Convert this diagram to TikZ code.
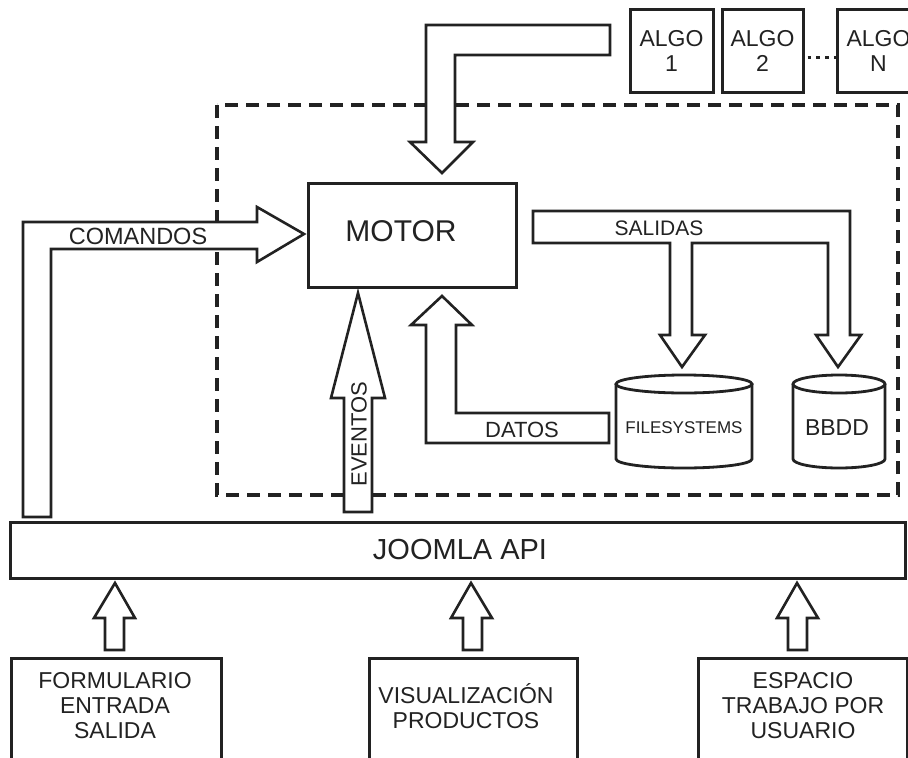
\documentclass[tikz,border=0pt]{standalone}
\usepackage{fontspec}
\setmainfont{Liberation Sans}
\definecolor{ink}{HTML}{222222}
\newcommand\fsz[2]{\fontsize{#1}{#2}\selectfont}
\tikzset{
  boxst/.style={draw=ink, line width=3pt, fill=white, inner sep=0pt},
  blockarrow/.style={draw=ink, line width=2.6pt, fill=white, line join=miter},
  lbl/.style={text=ink, inner sep=0pt},
  dashbox/.style={draw=ink, line width=3.6pt, dash pattern=on 13pt off 8pt},
  dotst/.style={draw=ink, line width=3.8pt, dash pattern=on 3.8pt off 5pt},
  cyl/.style={draw=ink, line width=2.8pt, fill=white},
}
\begin{document}
\begin{tikzpicture}[x=1pt,y=-1pt]
\useasboundingbox (0,0) rectangle (908,758);
\fill[white] (0,0) rectangle (908,758);

% dashed container
\coordinate (dbNW) at (217,105);
\coordinate (dbSE) at (898,495);
\draw[dashbox] (dbNW) rectangle (dbSE);

% ALGO boxes
\node[boxst, minimum width=83, minimum height=83, align=center, text=ink, font=\fsz{23}{25}] (algo1) at (671.5,50.5) {ALGO\\1};
\node[boxst, minimum width=81, minimum height=83, align=center, text=ink, font=\fsz{23}{25}] (algo2) at (762.5,50.5) {ALGO\\2};
\node[boxst, minimum width=83, minimum height=83, align=center, text=ink, font=\fsz{23}{25}] (algoN) at (878.5,50.5) {ALGO\\N};
\draw[dotst] ([yshift=-7pt,xshift=3pt]algo2.east) -- ([yshift=-7pt]algoN.west);

% MOTOR
\node[boxst, minimum width=208, minimum height=104] (motor) at (412,235) {};
\node[lbl, font=\fsz{30}{30}] (motortxt) at (401,231) {MOTOR};

% top arrow from algorithms into motor
\draw[blockarrow] (610,25) -- (426,25) -- (426,142) -- (410,142) -- (442,173) -- (473,142) -- (455,142) -- (455,55) -- (610,55) -- cycle;

% COMANDOS arrow
\draw[blockarrow] (23,517) -- (23,222) -- (257,222) -- (257,207) -- (304,234) -- (257,262) -- (257,249) -- (51,249) -- (51,517) -- cycle;
\node[lbl, font=\fsz{23.5}{24}] (comtxt) at (138,236) {COMANDOS};

% EVENTOS arrow
\draw[blockarrow] (344,512) -- (344,398) -- (331,398) -- (358,293) -- (385,398) -- (372,398) -- (372,512) -- cycle;
\node[lbl, font=\fsz{22}{22}, rotate=90] (evtxt) at (359,434) {EVENTOS};

% DATOS arrow
\draw[blockarrow] (609,413) -- (456,413) -- (456,325) -- (472,325) -- (442,296) -- (411,325) -- (426,325) -- (426,443) -- (609,443) -- cycle;
\node[lbl, font=\fsz{22}{22}] (dattxt) at (522,430) {DATOS};

% SALIDAS arrow
\draw[blockarrow] (533,211) -- (850,211) -- (850,335) -- (861,335) -- (838,367) -- (816,335) -- (828,335) -- (828,243) -- (692,243) -- (692,335) -- (705,335) -- (682,367) -- (660,335) -- (670,335) -- (670,243) -- (533,243) -- cycle;
\node[lbl, font=\fsz{21}{21}] (saltxt) at (659,228) {SALIDAS};

% cylinders
\draw[cyl] (616,384) -- (616,459) arc[start angle=180, end angle=0, x radius=68, y radius=9] -- (752,384);
\draw[cyl] (684,384) ellipse [x radius=68, y radius=9];
\node[lbl, font=\fsz{17}{17}] (fstxt) at (684,428) {FILESYSTEMS};

\draw[cyl] (793,384) -- (793,459) arc[start angle=180, end angle=0, x radius=46, y radius=9] -- (885,384);
\draw[cyl] (839,384) ellipse [x radius=46, y radius=9];
\node[lbl, font=\fsz{23}{23}] (bbtxt) at (837,428) {BBDD};

% JOOMLA API
\node[boxst, minimum width=895, minimum height=56] (joomla) at (457.5,550) {};
\node[lbl, font=\fsz{29}{29}] (joomtxt) at (460,550) {JOOMLA API};

% bottom arrows
\draw[blockarrow] (105,650) -- (105,618) -- (94,618) -- (115,583) -- (135,618) -- (124,618) -- (124,650) -- cycle;
\draw[blockarrow] (463,650) -- (463,618) -- (451,618) -- (471,583) -- (492,618) -- (482,618) -- (482,650) -- cycle;
\draw[blockarrow] (788,650) -- (788,618) -- (777,618) -- (797,583) -- (818,618) -- (807,618) -- (807,650) -- cycle;

% bottom boxes
\node[boxst, minimum width=210, minimum height=120, anchor=north west] (form) at (10,657) {};
\node[boxst, minimum width=208, minimum height=120, anchor=north west] (visu) at (368,657) {};
\node[boxst, minimum width=209, minimum height=120, anchor=north west] (esp) at (697,657) {};
\node[lbl, align=center, font=\fsz{23}{25}] (formtxt) at (115,706) {FORMULARIO\\ENTRADA\\SALIDA};
\node[lbl, align=center, font=\fsz{23}{25}] (visutxt) at (466,706) {VISUALIZACIÓN\\PRODUCTOS};
\node[lbl, align=center, font=\fsz{23}{25}] (esptxt) at (803,706) {ESPACIO\\TRABAJO POR\\USUARIO};
\end{tikzpicture}
\end{document}
